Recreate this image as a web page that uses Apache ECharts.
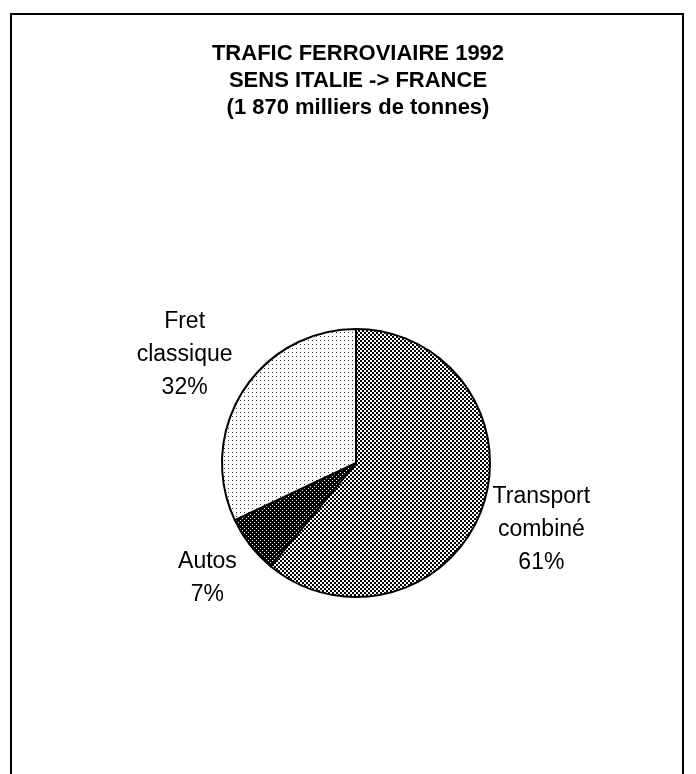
<!DOCTYPE html>
<html>
<head>
<meta charset="utf-8">
<script src="https://cdn.jsdelivr.net/npm/echarts@6/dist/echarts.min.js"></script>
<style>
html, body { margin: 0; padding: 0; background: #ffffff; }
#chart { width: 696px; height: 774px; }
</style>
</head>
<body>
<div id="chart"></div>
<script>
const titleLines = ["TRAFIC FERROVIAIRE 1992", "SENS ITALIE -> FRANCE", "(1 870 milliers de tonnes)"];
const categories = ["Transport\ncombiné", "Autos", "Fret\nclassique"];
const shares = [61, 7, 32];

// gap between the pie edge and the centre of each label
const labelGaps = [63, 54, 69];

const FONT = "'Liberation Sans', Arial, sans-serif";

// small tiles used as hatch fills, like the printed original
function makeTile(size, background, ink, cells) {
    const canvas = document.createElement("canvas");
    canvas.width = size;
    canvas.height = size;
    const ctx = canvas.getContext("2d");
    ctx.fillStyle = background;
    ctx.fillRect(0, 0, size, size);
    ctx.fillStyle = ink;
    cells.forEach(cell => ctx.fillRect(cell[0], cell[1], 1, 1));
    return canvas;
}

const fills = [
    makeTile(4, "#ffffff", "#000000", [[0, 0], [1, 0], [0, 1], [1, 1], [2, 2], [3, 2], [2, 3], [3, 3]]),
    makeTile(4, "#000000", "#ffffff", [[0, 0], [2, 2]]),
    makeTile(4, "#ffffff", "#333333", [[0, 0]])
];

const chart = echarts.init(document.getElementById("chart"), null, { renderer: "canvas" });

chart.setOption({
    animation: false,
    backgroundColor: "#ffffff",
    title: {
        text: titleLines.join("\n"),
        left: 358,
        top: 40,
        padding: 0,
        textAlign: "center",
        textStyle: {
            fontFamily: FONT,
            fontWeight: "bold",
            fontSize: 22,
            lineHeight: 27,
            color: "#000000"
        }
    },
    graphic: [
        {
            type: "rect",
            shape: { x: 11, y: 14, width: 672, height: 800 },
            style: { fill: "none", stroke: "#000000", lineWidth: 2 },
            silent: true
        }
    ],
    series: [
        {
            type: "pie",
            center: [356, 463],
            radius: 134,
            startAngle: 90,
            clockwise: true,
            avoidLabelOverlap: false,
            silent: true,
            itemStyle: {
                borderColor: "#000000",
                borderWidth: 2
            },
            label: {
                show: true,
                position: "outside",
                formatter: params => params.name.split("\n").map(line => "{c|" + line + "}").join("\n") + "\n{c|" + params.percent + "%}",
                rich: {
                    c: {
                        fontFamily: FONT,
                        fontSize: 23,
                        lineHeight: 33,
                        color: "#000000",
                        align: "center"
                    }
                }
            },
            labelLine: {
                show: true,
                length: 10,
                length2: 0,
                lineStyle: { opacity: 0 }
            },
            labelLayout: params => {
                const pts = params.labelLinePoints;
                if (!pts) {
                    return {};
                }
                const dx = pts[1][0] - pts[0][0];
                const dy = pts[1][1] - pts[0][1];
                const len = Math.hypot(dx, dy) || 1;
                const gap = labelGaps[params.dataIndex];
                return {
                    x: pts[0][0] + dx / len * gap,
                    y: pts[0][1] + dy / len * gap,
                    align: "center",
                    verticalAlign: "middle"
                };
            },
            emphasis: { disabled: true },
            data: categories.map((name, i) => ({
                name: name,
                value: shares[i],
                itemStyle: { color: { image: fills[i], repeat: "repeat" } }
            }))
        }
    ]
});
</script>
</body>
</html>
